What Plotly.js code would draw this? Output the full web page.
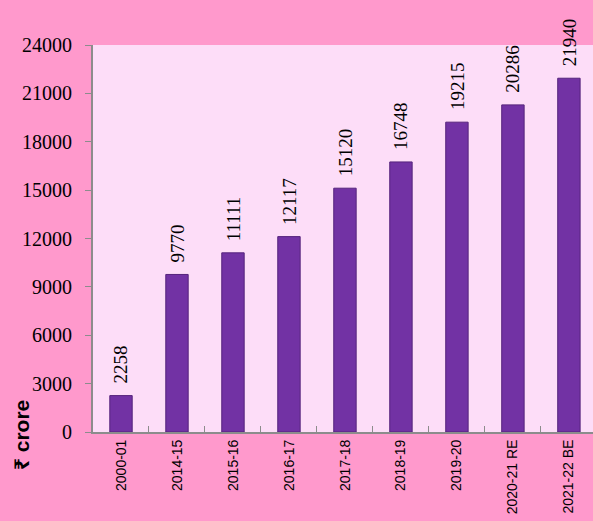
<!DOCTYPE html>
<html><head><meta charset="utf-8">
<script src="https://cdn.plot.ly/plotly-3.0.1.min.js"></script>
<style>html,body{margin:0;padding:0;background:#FF99CC;}</style>
</head><body>
<div id="chart" style="width:593px;height:521px;"></div>
<script>
const categories = ["2000-01","2014-15","2015-16","2016-17","2017-18","2018-19","2019-20","2020-21 RE","2021-22 BE"];
const values = [2258, 9770, 11111, 12117, 15120, 16748, 19215, 20286, 21940];
const yTicks = [0,3000,6000,9000,12000,15000,18000,21000,24000];

const trace = {
  type: 'bar',
  x: categories,
  y: values,
  marker: {color: '#7232A4', line: {color: '#55237C', width: 1}},
  hoverinfo: 'none'
};

const annotations = categories.map((c, i) => ({
  x: c, y: values[i], xref: 'x', yref: 'y',
  text: String(values[i]), textangle: -90,
  showarrow: false, xanchor: 'center', yanchor: 'bottom', yshift: 10,
  font: {family: 'Liberation Serif, Times New Roman, serif', size: 19, color: '#000'}
}));
annotations.push({
  xref: 'paper', yref: 'paper', x: -0.144, y: -0.008, xanchor: 'center', yanchor: 'middle',
  text: '<b>₹ crore</b>', textangle: -90, showarrow: false,
  font: {family: 'Liberation Sans, Noto Sans, DejaVu Sans, sans-serif', size: 21, color: '#000'}
});

const layout = {
  width: 593, height: 521,
  margin: {l: 93, r: 0, t: 45, b: 89},
  paper_bgcolor: '#FF99CC',
  plot_bgcolor: '#FDDDF8',
  showlegend: false,
  bargap: 0.6,
  xaxis: {
    type: 'category', range: [-0.5, 8.43],
    showline: true, linecolor: '#8c8c8c', linewidth: 2,
    ticks: 'inside', tickson: 'boundaries', ticklen: 6, tickcolor: '#8c8c8c', tickwidth: 1,
    tickangle: -90, showgrid: false,
    tickfont: {family: 'Liberation Sans, Arial, sans-serif', size: 14, color: '#000'}
  },
  yaxis: {
    range: [0, 24000], tickvals: yTicks, ticktext: yTicks.map(String),
    showline: true, linecolor: '#8c8c8c', linewidth: 2,
    ticks: 'outside', ticklen: 6, tickcolor: '#8c8c8c', tickwidth: 1,
    ticklabelstandoff: 9,
    showgrid: false, zeroline: false,
    tickfont: {family: 'Liberation Serif, Times New Roman, serif', size: 20, color: '#000'}
  },
  annotations: annotations
};

Plotly.newPlot('chart', [trace], layout, {displayModeBar: false, staticPlot: true});
</script>
</body></html>
